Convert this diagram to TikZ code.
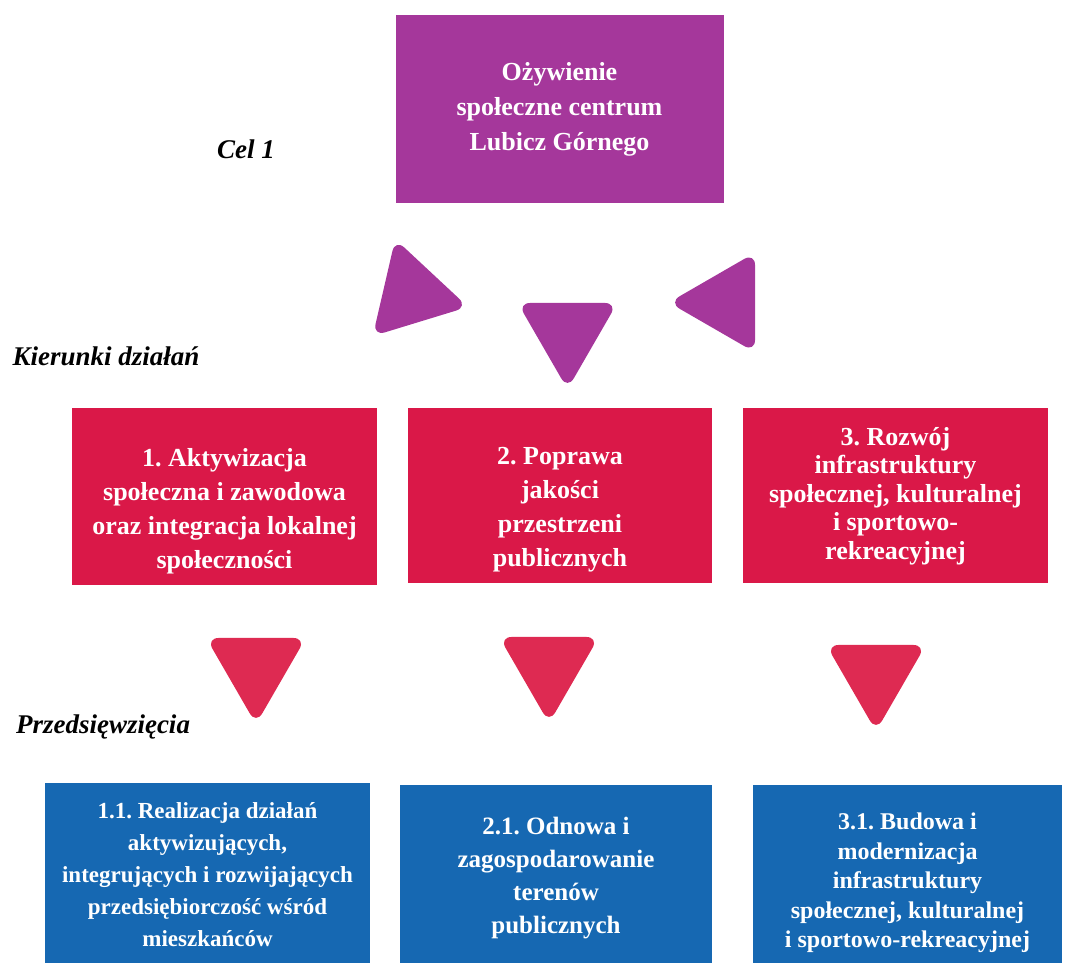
\documentclass[tikz,border=0pt]{standalone}
\usepackage{fontspec}
\setmainfont{Liberation Serif}
\usepackage{tikz}
\usetikzlibrary{shapes.geometric}
\frenchspacing

\definecolor{celfiolet}{HTML}{A5379B}
\definecolor{kierczerw}{HTML}{DA1848}
\definecolor{trojczerw}{HTML}{DE2A52}
\definecolor{przedniebo}{HTML}{1668B2}

\tikzset{
    pole/.style={rectangle, inner sep=0pt, outer sep=0pt},
    napis/.style 2 args={text=white, align=center, inner sep=0pt, font=\bfseries\fontsize{#1}{#2}\selectfont},
    etykieta/.style={inner sep=0pt, font=\bfseries\itshape\fontsize{27}{32}\selectfont},
    trojkat/.style={regular polygon, regular polygon sides=3, minimum size=115pt, inner sep=0pt, outer sep=0pt},
    grot/.style={rounded corners=12.5pt}
}

\begin{document}
\begin{tikzpicture}[x=1pt, y=-1pt]
    \useasboundingbox (0,0) rectangle (1065,962);

    % cel
    \node[pole, fill=celfiolet, minimum width=328pt, minimum height=188pt] (cel) at (559.5,109) {};
    \node[napis={26}{35}] (celtxt) at (cel.center) {Ożywienie\\społeczne centrum\\Lubicz Górnego};
    \node[etykieta] (celetk) at (246,149) {Cel 1};

    \node[trojkat, shape border rotate=-103] (tl) at (412,294) {};
    \node[trojkat, shape border rotate=180] (ts) at (567.5,331.7) {};
    \node[trojkat, shape border rotate=90] (tp) at (726.3,302.5) {};
    \fill[grot, celfiolet] (tl.corner 1) -- (tl.corner 2) -- (tl.corner 3) -- cycle;
    \fill[grot, celfiolet] (ts.corner 1) -- (ts.corner 2) -- (ts.corner 3) -- cycle;
    \fill[grot, celfiolet] (tp.corner 1) -- (tp.corner 2) -- (tp.corner 3) -- cycle;

    % kierunki dzialan
    \node[etykieta] (kieretk) at (106,356) {Kierunki działań};

    \node[pole, fill=kierczerw, minimum width=305pt, minimum height=177pt] (k1) at (224.5,496.5) {};
    \node[pole, fill=kierczerw, minimum width=304pt, minimum height=175pt] (k2) at (560,495.5) {};
    \node[pole, fill=kierczerw, minimum width=305pt, minimum height=175pt] (k3) at (895.5,495.5) {};

    \node[napis={26}{34}] (k1txt) at (224.5,511) {1. Aktywizacja\\społeczna i zawodowa\\oraz integracja lokalnej\\społeczności};
    \node[napis={26}{34}] (k2txt) at (560,510) {2. Poprawa\\jakości\\przestrzeni\\publicznych};
    \node[napis={26}{28.5}] (k3txt) at (895.5,496) {3. Rozwój\\infrastruktury\\społecznej, kulturalnej\\i sportowo-\\rekreacyjnej};

    \node[trojkat, shape border rotate=180] (t1) at (256,666.7) {};
    \node[trojkat, shape border rotate=180] (t2) at (549,665.7) {};
    \node[trojkat, shape border rotate=180] (t3) at (876,673.7) {};
    \fill[grot, trojczerw] (t1.corner 1) -- (t1.corner 2) -- (t1.corner 3) -- cycle;
    \fill[grot, trojczerw] (t2.corner 1) -- (t2.corner 2) -- (t2.corner 3) -- cycle;
    \fill[grot, trojczerw] (t3.corner 1) -- (t3.corner 2) -- (t3.corner 3) -- cycle;

    % przedsiewziecia
    \node[etykieta] (przedetk) at (103,727) {Przedsięwzięcia};

    \node[pole, fill=przedniebo, minimum width=325pt, minimum height=197pt] (p1) at (207.5,881.5) {};
    \node[pole, fill=przedniebo, minimum width=312pt, minimum height=195pt] (p2) at (556,882.5) {};
    \node[pole, fill=przedniebo, minimum width=309pt, minimum height=195pt] (p3) at (907.5,882.5) {};

    \node[napis={23}{32}] (p1txt) at (207.5,874.5) {1.1. Realizacja działań\\aktywizujących,\\integrujących i rozwijających\\przedsiębiorczość wśród\\mieszkańców};
    \node[napis={25}{33}] (p2txt) at (556,878) {2.1. Odnowa i\\zagospodarowanie\\terenów\\publicznych};
    \node[napis={24}{29.5}] (p3txt) at (907.5,883) {3.1. Budowa i\\modernizacja\\infrastruktury\\społecznej, kulturalnej\\i sportowo-rekreacyjnej};
\end{tikzpicture}
\end{document}
